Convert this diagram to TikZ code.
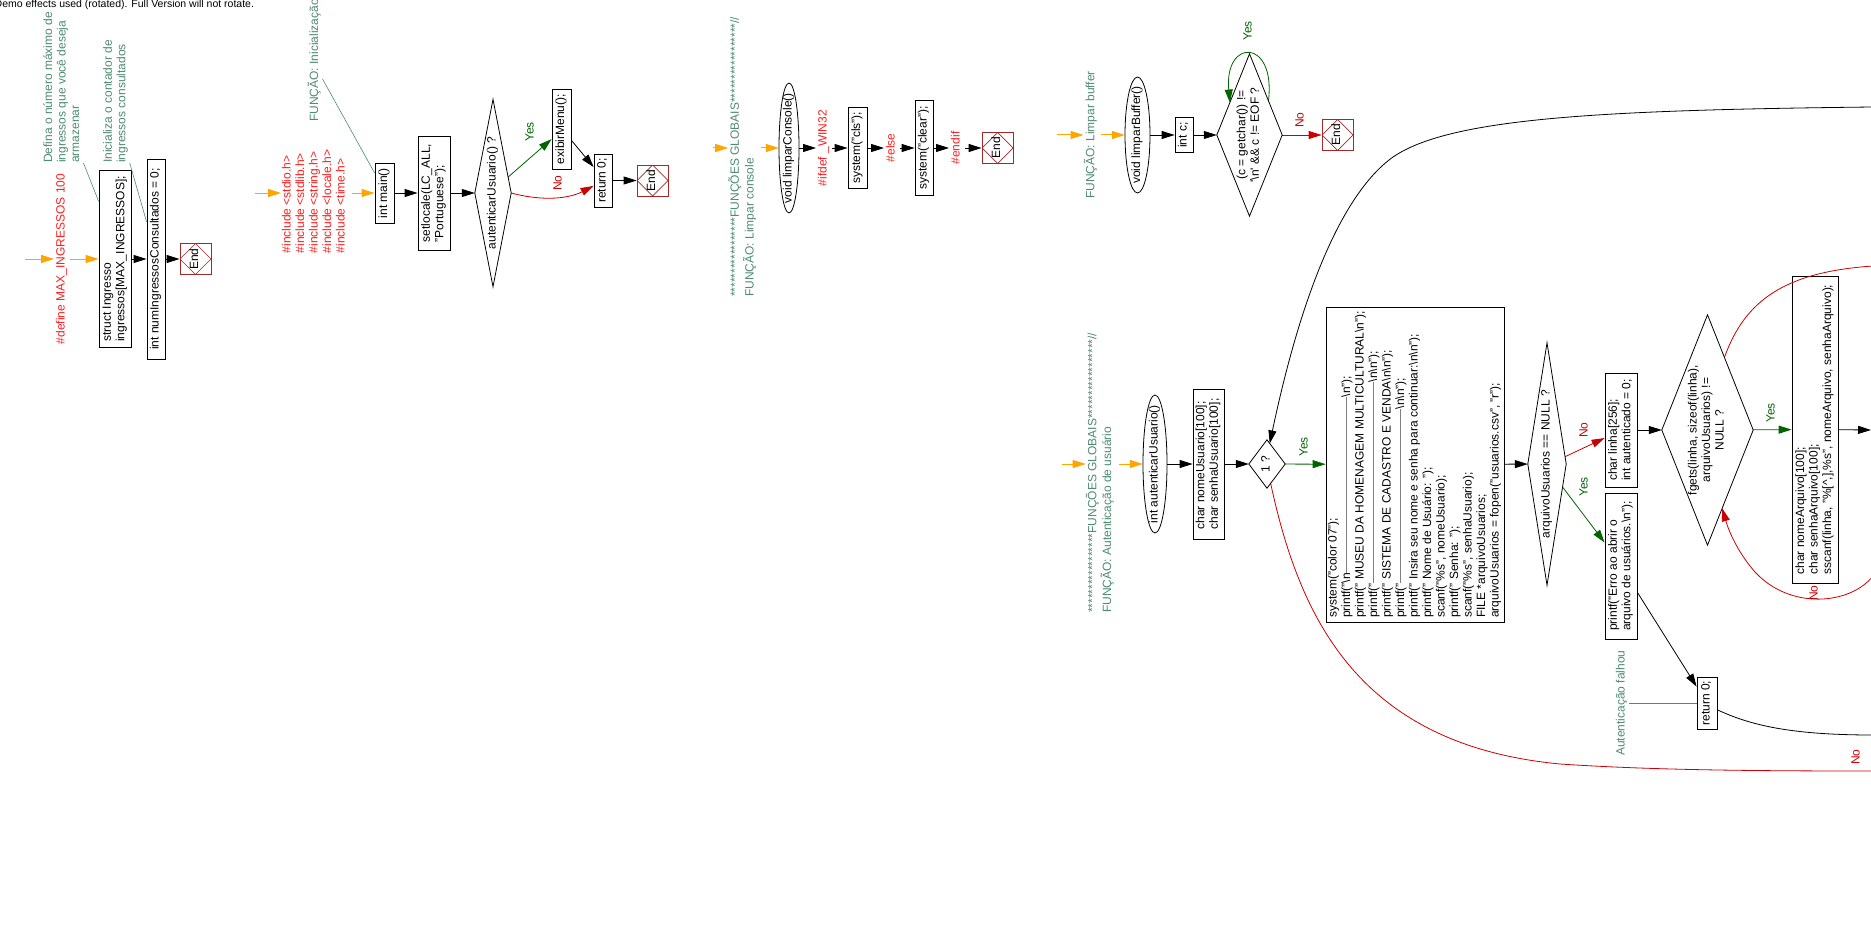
\documentclass[tikz,border=0pt]{standalone}
\usepackage{fontspec}
\setmainfont{Liberation Sans}
\usepackage{graphicx}
\usetikzlibrary{arrows.meta,calc}
\newcommand{\rt}[1]{\rotatebox{90}{\begin{tabular}{@{}l@{}}#1\end{tabular}}}
\newcommand{\rtc}[1]{\rotatebox{90}{\begin{tabular}{@{}c@{}}#1\end{tabular}}}
\newcommand{\bs}{\textbackslash}
\newcommand{\stars}{*****************}
\newcommand{\dsh}[1]{\textcolor{gray}{\rule[0.3em]{#1pt}{0.7pt}}}
\definecolor{cmtc}{RGB}{78,140,112}
\definecolor{redt}{RGB}{255,30,30}
\definecolor{rede}{RGB}{204,0,0}
\definecolor{gre}{RGB}{0,100,0}
\definecolor{endc}{RGB}{165,40,40}
\definecolor{orng}{RGB}{255,165,0}
\tikzset{
 box/.style 2 args={draw, line width=0.8pt, minimum width=#1pt, minimum height=#2pt, inner sep=2pt},
 dnode/.style 2 args={minimum width=#1pt, minimum height=#2pt, inner sep=0pt},
 enode/.style 2 args={minimum width=#1pt, minimum height=#2pt, inner sep=0pt},
 endn/.style={draw=endc, line width=0.8pt, minimum width=31pt, minimum height=31pt, inner sep=0pt,
   path picture={\draw[endc, line width=0.7pt] (path picture bounding box.north) -- (path picture bounding box.east) -- (path picture bounding box.south) -- (path picture bounding box.west) -- cycle;}},
 rtxt/.style={text=redt, inner sep=1pt},
 cmt/.style={text=cmtc, inner sep=0pt},
 glab/.style={text=gre, inner sep=0pt},
 rlab/.style={text=rede, inner sep=0pt},
 arr/.style={line width=0.8pt, -{Triangle[length=13pt,width=8pt]}},
 garr/.style={arr, draw=gre},
 rarr/.style={arr, draw=rede},
 oarr/.style={line width=1pt, draw=orng, -{Triangle[length=13pt,width=8pt]}},
 rline/.style={line width=0.8pt, draw=rede},
 bline/.style={line width=0.8pt},
 cline/.style={line width=0.6pt, draw=cmtc},
 shapeline/.style={line width=0.8pt}
}
\begin{document}
\begin{tikzpicture}[x=1pt,y=-1pt,font=\fontsize{12}{13.5}\selectfont]
\useasboundingbox (0,0) rectangle (1871,931);
\fill[white] (0,0) rectangle (1871,931);

\node[anchor=base west, inner sep=0pt, font=\fontsize{10.5}{12}\selectfont] (demo) at (-5.5,7.5) {Demo effects used (rotated). Full Version will not rotate.};

% ---------- group 1
\coordinate (o1) at (25,259);
\node[rtxt] (def) at (62,259) {\rt{\#define MAX\_INGRESSOS 100}};
\node[box={32}{177}] (s1) at (115,259) {\rt{struct Ingresso\\ingressos[MAX\_INGRESSOS];}};
\node[box={18}{200}] (n1) at (156,259) {\rt{int numIngressosConsultados = 0;}};
\node[endn] (e1) at (195.5,259) {\rt{End}};
\node[cmt, anchor=south] (c1) at (63,163) {\rt{Defina o número máximo de\\ingressos que você deseja\\armazenar}};
\node[cmt, anchor=south] (c2) at (116,163) {\rt{Inicializa o contador de\\ingressos consultados}};
\draw[oarr] (o1) -- (def);
\draw[oarr] (def) -- (s1);
\draw[arr] (s1) -- (n1);
\draw[arr] (n1) -- (e1);
\draw[cline] (c1.south east) -- ($(s1.north west)!0.175!(s1.south west)$);
\draw[cline] (c2.south east) -- ($(n1.north west)!0.315!(n1.south west)$);

% ---------- group 2
\coordinate (o2) at (255,193);
\node[rtxt, inner sep=0pt] (inc) at (315,201.5) {\rt{\#include <stdio.h>\\\#include <stdlib.h>\\\#include <string.h>\\\#include <locale.h>\\\#include <time.h>}};
\node[box={19}{60}] (main) at (384.5,193) {\rt{int main()}};
\node[cmt, anchor=south] (c3) at (315,122) {\rt{FUNÇÃO: Inicialização}};
\node[box={32}{114}] (sl) at (434,193) {\rt{setlocale(LC\_ALL,\\"Portuguese");}};
\node[dnode={36}{187}] (au) at (493,193) {\rtc{autenticarUsuario() ?}};
\node[box={19}{80}] (ex) at (561.5,129) {\rt{exibirMenu();}};
\node[box={18}{53}] (r0) at (603,180.5) {\rt{return 0;}};
\node[endn] (e2) at (652.5,180.5) {\rt{End}};
\node[glab] (y1) at (531,132) {\rt{Yes}};
\node[rlab] (no1) at (559,183) {\rt{No}};
\draw[oarr] (o2) -- (o2 -| inc.west);
\draw[oarr] ([xshift=3.5pt]inc.east |- o2) -- (main);
\draw[cline] ($(c3.south east)!0.35!(c3.north east)$) -- ($(main.north west)!0.17!(main.south west)$);
\draw[arr] (main) -- (sl);
\draw[arr] (sl) -- (au);
\draw[garr] ($(au.north)!0.83!(au.east)$) -- ($(ex.north west)!0.625!(ex.south west)$);
\draw[rarr] (au.east) .. controls (545,202) and (570,198) .. ($(r0.north west)!0.6!(r0.south west)$);
\draw[arr] ($(ex.north east)!0.64!(ex.south east)$) -- ($(r0.north west)!0.25!(r0.south west)$);
\draw[arr] (r0) -- (e2);

% ---------- group 3
\coordinate (o4) at (713,148);
\node[cmt, anchor=south] (c4) at (743,297) {\rt{\stars FUNÇÕES GLOBAIS\stars//\\FUNÇÃO: Limpar console}};
\node[enode={20}{130}] (lc) at (789,148) {\rt{void limparConsole()}};
\node[rtxt] (ifd) at (824,148) {\rt{\#ifdef \_WIN32}};
\node[box={19}{81}] (cls) at (857.5,148) {\rt{system("cls");}};
\node[rtxt] (els) at (892,148) {\rt{\#else}};
\node[box={18}{95}] (clr) at (924,148) {\rt{system("clear");}};
\node[rtxt] (eif) at (957,148) {\rt{\#endif}};
\node[endn] (e3) at (997.5,148) {\rt{End}};
\draw[oarr] (o4) -- (o4 -| c4.west);
\draw[oarr] ([xshift=3.5pt]c4.east |- o4) -- (lc);
\draw[arr] (lc) -- (ifd);
\draw[arr] (ifd) -- (cls);
\draw[arr] (cls) -- (els);
\draw[arr] (els) -- (clr);
\draw[arr] (clr) -- (eif);
\draw[arr] (eif) -- (e3);

% ---------- group 4
\coordinate (o5) at (1057,135);
\node[cmt] (c5) at (1091,135) {\rt{FUNÇÃO: Limpar buffer}};
\node[enode={25}{116}] (lb) at (1137.5,135) {\rt{void limparBuffer()}};
\node[box={18}{35}] (ic) at (1184,135) {\rt{int c;}};
\node[dnode={65}{162}] (gc) at (1249.5,135) {\rtc{(c = getchar()) !=\\\textquotesingle\bs n\textquotesingle{} \&\& c != EOF ?}};
\node[endn] (e4) at (1337.5,135) {\rt{End}};
\node[glab] (y2) at (1249,31) {\rt{Yes}};
\node[rlab] (no2) at (1301,120) {\rt{No}};
\draw[oarr] (o5) -- (c5);
\draw[oarr] ([xshift=2pt]c5.east) -- (lb);
\draw[arr] (lb) -- (ic);
\draw[arr] (ic) -- (gc);
\draw[rarr] (gc) -- (e4);
\draw[garr] ($(gc.north)!0.58!(gc.east)$) .. controls (1276,38) and (1224,38) .. ($(gc.north)!0.6!(gc.west)$);

% ---------- group 5
\coordinate (o6) at (1062,464);
\node[cmt, anchor=south] (c6) at (1100.5,613) {\rt{\stars FUNÇÕES GLOBAIS\stars//\\FUNÇÃO: Autenticação de usuário}};
\node[enode={24}{138}] (aU) at (1155,464) {\rt{int autenticarUsuario()}};
\node[box={31}{150}] (cu) at (1208.5,464) {\rt{char nomeUsuario[100];\\char senhaUsuario[100];}};
\node[dnode={36}{48}] (one) at (1267,464) {\rtc{1 ?}};
\node[box={178}{315}, inner sep=1pt] (big) at (1415,464.5) {\rt{system("color 07");\\
printf("\bs n\dsh{176}\bs n");\\
printf(" MUSEU DA HOMENAGEM MULTICULTURAL\bs n");\\
printf("\dsh{201}\bs n\bs n");\\
printf(" SISTEMA DE CADASTRO E VENDA\bs n\bs n");\\
printf("\dsh{174}\bs n\bs n");\\
printf(" Insira seu nome e senha para continuar:\bs n\bs n");\\
printf(" Nome de Usuário: ");\\
scanf("\%s", nomeUsuario);\\
printf(" Senha: ");\\
scanf("\%s", senhaUsuario);\\
FILE *arquivoUsuarios;\\
arquivoUsuarios = fopen("usuarios.csv", "r");}};
\node[dnode={38}{242}] (arq) at (1547,464) {\rtc{arquivoUsuarios == NULL ?}};
\node[box={32}{114}] (lin) at (1621,430) {\rt{char linha[256];\\int autenticado = 0;}};
\node[box={32}{146}] (err) at (1621,566) {\rt{printf("Erro ao abrir o\\arquivo de usuários.\bs n");}};
\node[dnode={91}{230}] (fg) at (1707.5,430) {\rtc{fgets(linha, sizeof(linha),\\arquivoUsuarios) !=\\NULL ?}};
\node[box={46}{307}] (aq) at (1815,429.5) {\rt{char nomeArquivo[100];\\char senhaArquivo[100];\\sscanf(linha, "\%[\textasciicircum,],\%s", nomeArquivo, senhaArquivo);}};
\node[box={20}{52}] (r2) at (1707,703) {\rt{return 0;}};
\node[cmt] (c7) at (1622,703) {\rt{Autenticação falhou}};
\node[glab] (y3) at (1305,447) {\rt{Yes}};
\node[rlab] (no3) at (1857,757) {\rt{No}};
\node[rlab] (no4) at (1585,430) {\rt{No}};
\node[glab] (y4) at (1585,487) {\rt{Yes}};
\node[glab] (y5) at (1772,413) {\rt{Yes}};
\node[rlab] (no5) at (1815,593) {\rt{No}};
\coordinate (bigfar) at (1873,107);
\coordinate (nofar) at (1873,771);
\coordinate (aqfar) at (1871,430);
\coordinate (fgfar) at (1873,266);
\coordinate (loopfar) at (1873,576);
\coordinate (r2far) at (1873,735);
\draw[oarr] (o6) -- (o6 -| c6.west);
\draw[oarr] ([xshift=4pt]c6.east |- o6) -- (aU);
\draw[arr] (aU) -- (cu);
\draw[arr] (cu) -- (one);
\draw[garr] (one) -- (big);
\draw[arr] (bigfar) .. controls (1600,110) and (1450,118) .. (1393,157) .. controls (1340,195) and (1300,300) .. ($(one.north)!0.15!(one.east)$);
\draw[rline] ($(one.south)!0.2!(one.east)$) .. controls (1300,620) and (1360,745) .. (1560,764) .. controls (1650,770) and (1750,771) .. (nofar);
\draw[arr] (big) -- (arq);
\draw[rarr] ($(arq.north)!0.94!(arq.east)$) -- ($(lin.north west)!0.57!(lin.south west)$);
\draw[garr] ($(arq.east)!0.19!(arq.south)$) -- ($(err.north west)!0.34!(err.south west)$);
\draw[arr] (lin) -- (fg);
\draw[garr] (fg) -- (aq);
\draw[arr] (aq) -- (aqfar);
\draw[rline] ($(fg.north)!0.37!(fg.east)$) .. controls (1745,300) and (1785,272) .. (fgfar);
\draw[rarr] (loopfar) .. controls (1850,605) and (1790,610) .. (1755,572) .. controls (1740,555) and (1730,535) .. ($(fg.east)!0.68!(fg.south)$);
\draw[arr] ($(err.north east)!0.68!(err.south east)$) -- ($(r2.north west)!0.19!(r2.south west)$);
\draw[bline] ($(r2.north east)!0.63!(r2.south east)$) .. controls (1750,725) and (1790,735) .. (r2far);
\draw[cline] (c7) -- (r2);

% shapes drawn around named nodes
\foreach \d in {au,gc,one,arq,fg}
  \draw[shapeline] (\d.north) -- (\d.east) -- (\d.south) -- (\d.west) -- cycle;
\draw[shapeline] (lc.center) ellipse [x radius=10pt, y radius=65pt];
\draw[shapeline] (lb.center) ellipse [x radius=12.5pt, y radius=58pt];
\draw[shapeline] (aU.center) ellipse [x radius=12pt, y radius=69pt];
\end{tikzpicture}
\end{document}
